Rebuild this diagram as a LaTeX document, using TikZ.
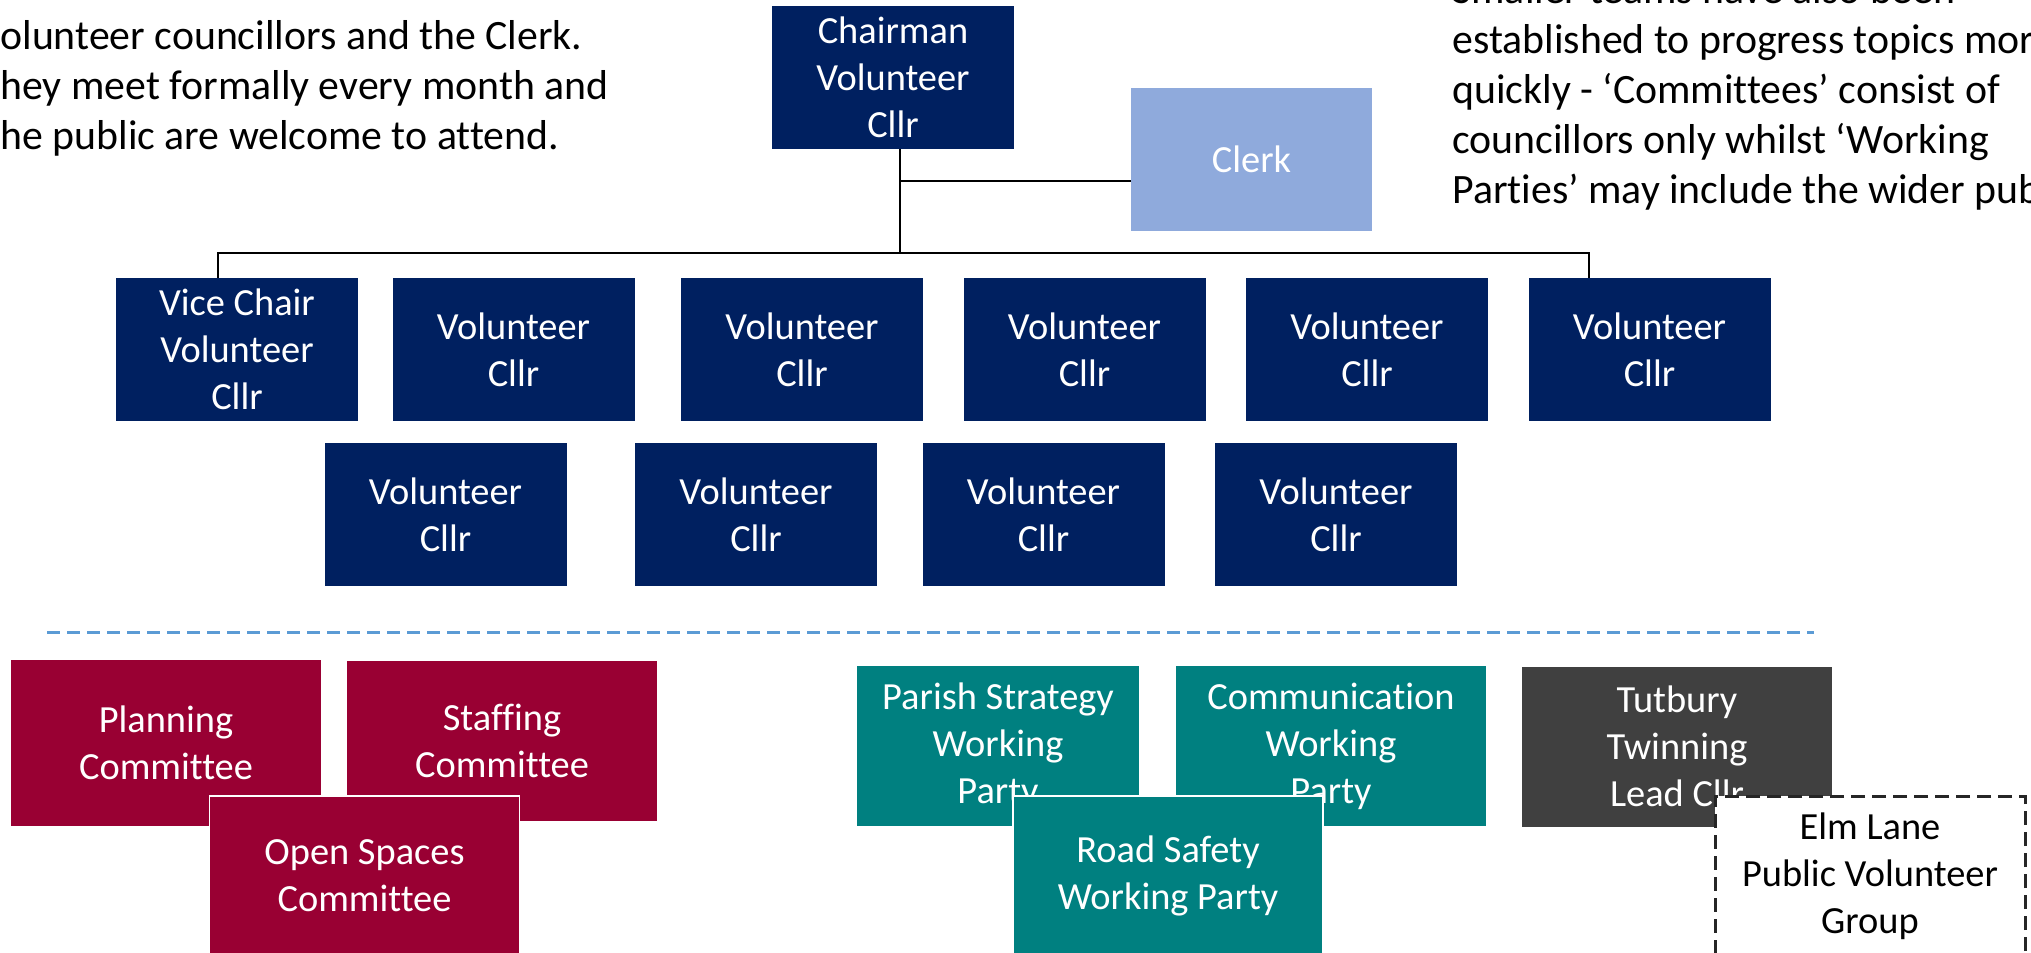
\documentclass[tikz,border=0pt]{standalone}
\usepackage{fontspec}
\setmainfont{Carlito}[Ligatures=NoCommon]
\usepackage{xcolor}
\usepackage{tikz}
\definecolor{navyblue}{RGB}{0,32,96}
\definecolor{clerkblue}{RGB}{143,170,220}
\definecolor{cttered}{RGB}{153,0,51}
\definecolor{partyteal}{RGB}{0,128,128}
\definecolor{twingrey}{RGB}{64,64,64}
\definecolor{dashblue}{RGB}{91,155,213}
\tikzset{
  box/.style={rectangle, inner sep=0pt, align=center, minimum width=155pt, minimum height=80pt, font=\fontsize{19.2}{23.5}\selectfont, text=white},
  cllrbox/.style={box, fill=navyblue, minimum width=121pt, minimum height=71.5pt},
  clerkbox/.style={box, fill=clerkblue, minimum width=120.5pt, minimum height=71.5pt},
  cttebox/.style={box, fill=cttered},
  partybox/.style={box, fill=partyteal},
  twinbox/.style={box, fill=twingrey},
  groupbox/.style={box, fill=white, text=black, draw=black!85, line width=1.5pt, dash pattern=on 7pt off 3.5pt},
  overbox/.style={draw=white, line width=0.75pt},
  sidetext/.style={align=left, inner sep=0pt, font=\fontsize{20.9}{25}\selectfont},
  link/.style={line width=1.4pt}
}

\begin{document}
\begin{tikzpicture}[x=0.5pt, y=-0.5pt]
\clip (0,0) rectangle (2031,953);

\node[sidetext, anchor=base west] (meets) at (0,149) {olunteer councillors and the Clerk.\\hey meet formally every month and\\he public are welcome to attend.};
\node[sidetext, anchor=base west] (teams) at (1452,203) {Smaller teams have also been\\established to progress topics mor\\quickly - ‘Committees’ consist of\\councillors only whilst ‘Working\\Parties’ may include the wider pub};

\node[cllrbox] (chair) at (893,77.5) {Chairman\\Volunteer\\Cllr};
\node[clerkbox] (clerk) at (1251.5,159.5) {Clerk};

\node[cllrbox] (vice) at (237,349.5) {Vice Chair\\Volunteer\\Cllr};
\node[cllrbox] (cllrA) at (513.5,349.5) {Volunteer\\Cllr};
\node[cllrbox] (cllrB) at (802,349.5) {Volunteer\\Cllr};
\node[cllrbox] (cllrC) at (1084.5,349.5) {Volunteer\\Cllr};
\node[cllrbox] (cllrD) at (1367,349.5) {Volunteer\\Cllr};
\node[cllrbox] (cllrE) at (1649.5,349.5) {Volunteer\\Cllr};

\node[cllrbox] (cllrF) at (445.5,514.5) {Volunteer\\Cllr};
\node[cllrbox] (cllrG) at (756,514.5) {Volunteer\\Cllr};
\node[cllrbox] (cllrH) at (1043.5,514.5) {Volunteer\\Cllr};
\node[cllrbox] (cllrI) at (1336,514.5) {Volunteer\\Cllr};

\coordinate (bus) at (900,253);
\coordinate (tee) at (900,181);
\coordinate (busL) at (218,253);
\coordinate (busR) at (1589,253);
\draw[link] (chair.south -| bus) -- (bus);
\draw[link] (tee) -- (tee -| clerk.west);
\draw[link] (busL |- vice.north) -- (busL) -- (busR) -- (busR |- cllrE.north);

\draw[dashblue, line width=1.5pt, dash pattern=on 6.5pt off 3.5pt] (47,632) -- (1814,632);

\node[cttebox, minimum height=83pt] (planning) at (166,743) {Planning\\Committee};
\node[cttebox] (staffing) at (502,741) {Staffing\\Committee};
\node[cttebox, overbox] (openspaces) at (364.5,876) {Open Spaces\\Committee};

\node[partybox, minimum width=141pt] (strategy) at (998,746) {Parish Strategy\\Working\\Party};
\node[partybox] (comms) at (1331,746) {Communication\\Working\\Party};
\node[partybox, overbox] (roads) at (1168,876) {Road Safety\\Working Party};

\node[twinbox] (twinning) at (1677,746.5) {Tutbury\\Twinning\\Lead Cllr};
\node[groupbox] (elmlane) at (1870,876) {Elm Lane\\Public Volunteer\\Group};
\end{tikzpicture}
\end{document}
